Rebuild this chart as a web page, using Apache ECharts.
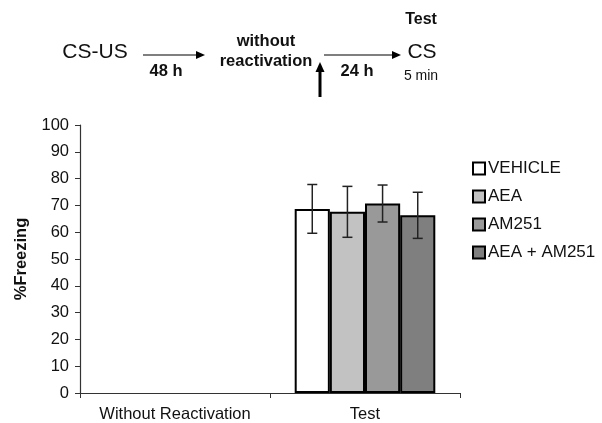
<!DOCTYPE html>
<html><head><meta charset="utf-8">
<script src="https://cdn.jsdelivr.net/npm/echarts@6/dist/echarts.min.js"></script>
<style>html,body{margin:0;padding:0;background:#fff}#c{width:602px;height:423px}</style>
</head><body><div id="c"></div>
<script>
var categories = ['Without Reactivation', 'Test'];
var seriesNames = ['VEHICLE', 'AEA', 'AM251', 'AEA + AM251'];
var vehicle = [null, 68.7];
var aea = [null, 67.6];
var am251 = [null, 70.7];
var aeaAm251 = [null, 66.3];
var vehicleErr = [null, 9.1];
var aeaErr = [null, 9.5];
var am251Err = [null, 6.9];
var aeaAm251Err = [null, 8.6];
var yTicks = [0, 10, 20, 30, 40, 50, 60, 70, 80, 90, 100];

var colors = ['#ffffff', '#c2c2c2', '#999999', '#7f7f7f'];
var values = [vehicle, aea, am251, aeaAm251];
var errs = [vehicleErr, aeaErr, am251Err, aeaAm251Err];
var FONT = '"Liberation Sans", Arial, Helvetica, sans-serif';
var catGap = 0.26;

var chart = echarts.init(document.getElementById('c'));
var series = [];
values.forEach(function (v, i) {
  series.push({
    name: seriesNames[i], type: 'bar', data: v, barGap: '0%', barCategoryGap: (catGap * 100) + '%',
    itemStyle: { color: colors[i], borderColor: '#000', borderWidth: 2 }
  });
});
values.forEach(function (v, i) {
  var d = [];
  v.forEach(function (val, j) { if (val != null) d.push([j, val - errs[i][j], val + errs[i][j]]); });
  series.push({
    type: 'custom', silent: true, z: 5,
    data: d,
    renderItem: function (params, api) {
      var c = api.value(0);
      var bandW = api.size([1, 0])[0];
      var bw = bandW * (1 - catGap) / 4;
      var lo = api.coord([c, api.value(1)]);
      var hi = api.coord([c, api.value(2)]);
      var x = lo[0] + (i - 1.5) * bw;
      var cap = 5;
      var st = { stroke: '#222', lineWidth: 1.5 };
      return { type: 'group', children: [
        { type: 'line', shape: { x1: x, y1: lo[1], x2: x, y2: hi[1] }, style: st },
        { type: 'line', shape: { x1: x - cap, y1: lo[1], x2: x + cap, y2: lo[1] }, style: st },
        { type: 'line', shape: { x1: x - cap, y1: hi[1], x2: x + cap, y2: hi[1] }, style: st }
      ]};
    }
  });
});

function txt(x, y, s, size, bold) {
  return { type: 'text', x: x, y: y, style: { text: s, fill: '#111', font: (bold ? 'bold ' : '') + size + 'px ' + FONT, textAlign: 'center', textVerticalAlign: 'middle' } };
}
function arrowH(x1, x2, y) {
  return [
    { type: 'line', shape: { x1: x1, y1: y, x2: x2 - 6, y2: y }, style: { stroke: '#000', lineWidth: 1.2 } },
    { type: 'polygon', shape: { points: [[x2, y], [x2 - 9, y - 4], [x2 - 9, y + 4]] }, style: { fill: '#000' } }
  ];
}

var graphics = [
  txt(95, 52, 'CS-US', 21, false),
  txt(166, 71, '48 h', 16.5, true),
  txt(266, 41, 'without', 16.5, true),
  txt(266, 61, 'reactivation', 16.5, true),
  txt(357, 71, '24 h', 16.5, true),
  txt(422, 52, 'CS', 21, false),
  txt(421, 20, 'Test', 16, true),
  txt(421, 76, '5 min', 14, false),
  { type: 'line', shape: { x1: 320, y1: 97, x2: 320, y2: 70 }, style: { stroke: '#000', lineWidth: 3 } },
  { type: 'polygon', shape: { points: [[320, 62], [315.5, 72], [324.5, 72]] }, style: { fill: '#000' } }
].concat(arrowH(143, 205, 55)).concat(arrowH(324, 401, 55));

chart.setOption({
  animation: false,
  backgroundColor: '#fff',
  grid: { left: 80, right: 142, top: 125, bottom: 30 },
  legend: {
    orient: 'vertical', left: 467, top: 155, itemWidth: 12, itemHeight: 12, itemGap: 11,
    icon: 'rect', data: seriesNames,
    textStyle: { fontFamily: FONT, fontSize: 17, color: '#111', padding: [0, 0, 0, -2] },
    itemStyle: { borderColor: '#000', borderWidth: 2 }
  },
  xAxis: {
    type: 'category', data: categories,
    axisLine: { lineStyle: { color: '#333', width: 1.2 } },
    axisTick: { show: true, length: 5, interval: 0, lineStyle: { color: '#333' } },
    axisLabel: { interval: 0, fontFamily: FONT, fontSize: 16.5, color: '#111', margin: 13 }
  },
  yAxis: {
    type: 'value', min: 0, max: 100, interval: 10,
    name: '%Freezing', nameLocation: 'middle', nameGap: 50,
    nameTextStyle: { fontFamily: FONT, fontSize: 16.5, fontWeight: 'bold', color: '#111' },
    axisLine: { show: true, lineStyle: { color: '#333', width: 1.2 } },
    axisTick: { show: true, length: 5, lineStyle: { color: '#333' } },
    splitLine: { show: false },
    axisLabel: { fontFamily: FONT, fontSize: 16.5, color: '#111', margin: 11,
      formatter: function (v) { return yTicks.indexOf(v) >= 0 ? String(v) : ''; } }
  },
  graphic: graphics,
  series: series
});
</script></body></html>
